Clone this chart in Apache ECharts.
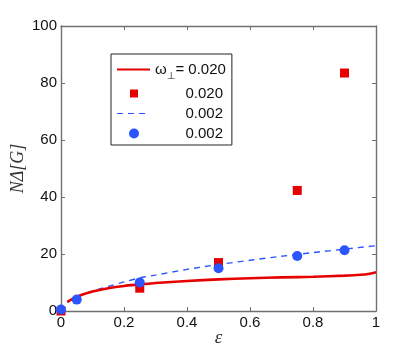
<!DOCTYPE html>
<html><head><meta charset="utf-8">
<script src="https://cdn.jsdelivr.net/npm/echarts@6/dist/echarts.min.js"></script>
<style>html,body{margin:0;padding:0;background:#fff}#c{width:415px;height:351px}</style>
</head><body><div id="c"></div>
<script>
var xTicks = [0, 0.2, 0.4, 0.6, 0.8, 1];
var yTicks = [0, 20, 40, 60, 80, 100];
var curveX = [0.02, 0.05, 0.1, 0.15, 0.2, 0.25, 0.3, 0.4, 0.5, 0.6, 0.7, 0.8, 0.9, 0.95, 0.98, 1.0];
var redCurve = [3.2, 5.0, 6.8, 8.0, 8.8, 9.3, 9.8, 10.5, 11.1, 11.5, 11.8, 12.0, 12.4, 12.7, 13.1, 13.6];
var dashX = [0.02, 0.05, 0.1, 0.15, 0.2, 0.25, 0.3, 0.4, 0.5, 0.6, 0.7, 0.8, 0.9, 1.0];
var blueCurve = [3.0, 5.0, 7.0, 8.6, 10.2, 11.6, 12.6, 14.6, 16.3, 17.8, 19.2, 20.5, 21.7, 22.9];
var sqX = [0, 0.25, 0.5, 0.75, 0.9];
var redSquares = [0, 8, 17, 42.3, 83.5];
var dotX = [0, 0.05, 0.25, 0.5, 0.75, 0.9];
var blueDots = [0.5, 4, 10, 15, 19.3, 21.3];
var legendNames = ['0.020', '0.020', '0.002', '0.002'];

function zip(a, b) { return a.map(function (v, i) { return [v, b[i]]; }); }
var RED = '#e60000', BLUE = '#2a55ff', AX = '#707070';
var chart = echarts.init(document.getElementById('c'));
var axisCommon = {
  axisLine: { show: true, onZero: false, lineStyle: { color: AX, width: 1.4 } },
  axisTick: { show: true, inside: true, length: 4, lineStyle: { color: AX } },
  splitLine: { show: false }
};
var BOX = 'M0,0 M33,10 ';
chart.setOption({
  animation: false,
  grid: { left: 61, right: 39, top: 26, bottom: 40, containLabel: false, outerBoundsMode: 'none' },
  xAxis: [
    Object.assign({ type: 'value', min: 0, max: 1, interval: 0.2,
      axisLabel: { color: '#111', fontSize: 15, fontFamily: 'Liberation Sans', margin: 4 },
      name: 'ε', nameLocation: 'middle', nameGap: 17, nameMoveOverlap: false,
      nameTextStyle: { fontFamily: 'Liberation Serif', fontStyle: 'italic', fontSize: 19, color: '#333' } }, axisCommon),
    Object.assign({ type: 'value', min: 0, max: 1, interval: 0.2, position: 'top',
      axisLabel: { show: false } }, axisCommon)
  ],
  yAxis: [
    Object.assign({ type: 'value', min: 0, max: 100, interval: 20,
      axisLabel: { color: '#111', fontSize: 15, fontFamily: 'Liberation Sans', margin: 4 },
      name: 'NΔ[G]', nameLocation: 'middle', nameGap: 34, nameRotate: 90, nameMoveOverlap: false,
      nameTextStyle: { fontFamily: 'Liberation Serif', fontStyle: 'italic', fontSize: 18, color: '#333' } }, axisCommon),
    Object.assign({ type: 'value', min: 0, max: 100, interval: 20, position: 'right',
      axisLabel: { show: false } }, axisCommon)
  ],
  legend: {
    orient: 'vertical', left: 111, top: 54,
    padding: [4, 6, 4, 6], itemGap: 5,
    itemWidth: 33, itemHeight: 10,
    borderColor: '#222', borderWidth: 1, backgroundColor: '#fff',
    data: [
      { name: 'a', icon: 'path://' + BOX + 'M0,4 L33,4 L33,6 L0,6 Z' },
      { name: 'b', icon: 'path://' + BOX + 'M13,1 L21,1 L21,9 L13,9 Z' },
      { name: 'c', icon: 'path://' + BOX + 'M0,4.5 L6,4.5 L6,5.5 L0,5.5 Z M11,4.5 L17,4.5 L17,5.5 L11,5.5 Z M22,4.5 L28,4.5 L28,5.5 L22,5.5 Z' },
      { name: 'd', icon: 'path://' + BOX + 'M12,5 A5,5 0 1,0 22,5 A5,5 0 1,0 12,5 Z' }
    ],
    formatter: function (n) {
      if (n === 'a') return '{w|ω}{s|⊥}{t|= 0.020}';
      var i = { b: 1, c: 2, d: 3 }[n];
      return '{r|' + legendNames[i] + '}';
    },
    textStyle: {
      fontFamily: 'Liberation Sans', fontSize: 15, color: '#111',
      rich: {
        w: { fontSize: 15, fontFamily: 'Liberation Sans', color: '#111', lineHeight: 26, verticalAlign: 'middle' },
        s: { fontSize: 10, fontFamily: 'DejaVu Sans', color: '#111', lineHeight: 12, padding: [13, 0, 0, 0], verticalAlign: 'middle' },
        t: { fontSize: 15, fontFamily: 'Liberation Sans', color: '#111', lineHeight: 26, verticalAlign: 'middle' },
        r: { fontSize: 15, fontFamily: 'Liberation Sans', color: '#111', width: 68, align: 'right', lineHeight: 18 }
      }
    }
  },
  series: [
    { name: 'a', type: 'line', data: zip(curveX, redCurve), smooth: 0.3, showSymbol: false,
      lineStyle: { color: RED, width: 2.6 }, itemStyle: { color: RED }, z: 3 },
    { name: 'b', type: 'scatter', data: zip(sqX, redSquares), symbol: 'rect', symbolSize: 9,
      itemStyle: { color: RED, opacity: 1 }, z: 4 },
    { name: 'c', type: 'line', data: zip(dashX, blueCurve), smooth: 0.3, showSymbol: false,
      lineStyle: { color: BLUE, width: 1.4, type: [6, 5] }, itemStyle: { color: BLUE }, z: 2 },
    { name: 'd', type: 'scatter', data: zip(dotX, blueDots), symbol: 'circle', symbolSize: 10,
      itemStyle: { color: BLUE, opacity: 1 }, z: 5 }
  ]
});
</script></body></html>
